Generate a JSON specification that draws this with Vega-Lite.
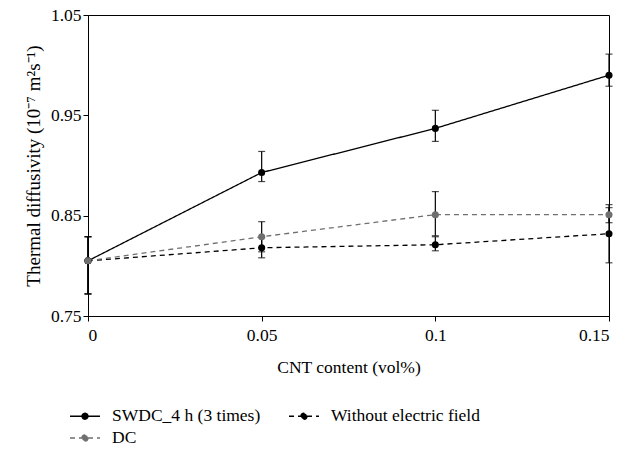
{
  "$schema": "https://vega.github.io/schema/vega-lite/v6.json",
  "width": 521,
  "height": 301,
  "autosize": "none",
  "padding": {"left": 88, "top": 15, "right": 18, "bottom": 135},
  "background": "white",
  "config": {
    "font": "Liberation Serif",
    "view": {"stroke": "black", "strokeWidth": 1},
    "axis": {
      "grid": false,
      "domainColor": "black",
      "tickColor": "black",
      "labelColor": "black",
      "titleColor": "black",
      "labelFont": "Liberation Serif",
      "titleFont": "Liberation Serif",
      "labelFontSize": 17.5,
      "titleFontSize": 17.5,
      "titleFontWeight": "normal",
      "tickSize": 5
    },
    "legend": {
      "labelFont": "Liberation Serif",
      "labelFontSize": 17.5,
      "labelColor": "black"
    }
  },
  "data": {
    "values": [
      {"x": 0, "series": "SWDC_4 h (3 times)", "y": 0.805, "lo": 0.772, "hi": 0.829},
      {"x": 0.05, "series": "SWDC_4 h (3 times)", "y": 0.893, "lo": 0.884, "hi": 0.914},
      {"x": 0.1, "series": "SWDC_4 h (3 times)", "y": 0.937, "lo": 0.924, "hi": 0.955},
      {"x": 0.15, "series": "SWDC_4 h (3 times)", "y": 0.990, "lo": 0.979, "hi": 1.011},
      {"x": 0, "series": "Without electric field", "y": 0.805, "lo": 0.772, "hi": 0.829},
      {"x": 0.05, "series": "Without electric field", "y": 0.818, "lo": 0.808, "hi": 0.828},
      {"x": 0.1, "series": "Without electric field", "y": 0.821, "lo": 0.815, "hi": 0.829},
      {"x": 0.15, "series": "Without electric field", "y": 0.832, "lo": 0.803, "hi": 0.861},
      {"x": 0, "series": "DC", "y": 0.805, "lo": 0.772, "hi": 0.829},
      {"x": 0.05, "series": "DC", "y": 0.829, "lo": 0.814, "hi": 0.844},
      {"x": 0.1, "series": "DC", "y": 0.851, "lo": 0.830, "hi": 0.874},
      {"x": 0.15, "series": "DC", "y": 0.851, "lo": 0.843, "hi": 0.858}
    ]
  },
  "encoding": {
    "x": {
      "field": "x",
      "type": "quantitative",
      "scale": {"domain": [0, 0.15], "nice": false, "zero": false},
      "axis": {"values": [0, 0.05, 0.1, 0.15], "labelExpr": "datum.value == 0 ? '0' : format(datum.value, '.2~f')", "title": "CNT content (vol%)", "titlePadding": 15, "labelPadding": 5}
    }
  },
  "layer": [
    {
      "mark": {"type": "rule", "color": "black", "strokeWidth": 1.2},
      "encoding": {
        "y": {"field": "lo", "type": "quantitative"},
        "y2": {"field": "hi"}
      }
    },
    {
      "mark": {"type": "tick", "orient": "horizontal", "color": "black", "size": 7, "thickness": 1.2},
      "encoding": {"y": {"field": "lo", "type": "quantitative"}}
    },
    {
      "mark": {"type": "tick", "orient": "horizontal", "color": "black", "size": 7, "thickness": 1.2},
      "encoding": {"y": {"field": "hi", "type": "quantitative"}}
    },
    {
      "mark": {"type": "line", "strokeWidth": 1.3},
      "encoding": {
        "y": {
          "field": "y",
          "type": "quantitative",
          "scale": {"domain": [0.75, 1.05], "nice": false, "zero": false},
          "axis": {"values": [0.75, 0.85, 0.95, 1.05], "format": ".2f", "title": "Thermal diffusivity (10⁻⁷ m²s⁻¹)", "titleFontSize": 19, "titlePadding": 7, "labelPadding": 2}
        },
        "color": {
          "field": "series",
          "type": "nominal",
          "scale": {"domain": ["SWDC_4 h (3 times)", "Without electric field", "DC"], "range": ["black", "black", "#6f6f6f"]},
          "legend": {
            "title": null,
            "orient": "none",
            "legendX": -16,
            "legendY": 388,
            "columns": 2,
            "columnPadding": 25,
            "rowPadding": 0,
            "labelOffset": 14,
            "padding": 0,
            "values": ["SWDC_4 h (3 times)", "DC", "Without electric field"],
            "symbolType": "M-1.25,0H1.25M0.25,0A0.25,0.25,0,1,1,-0.25,0A0.25,0.25,0,1,1,0.25,0Z",
            "symbolSize": 576,
            "symbolStrokeWidth": 1.3,
            "encode": {"symbols": {"update": {"fill": {"scale": "color", "field": "value"}, "fillOpacity": {"value": 1}}}}
          }
        },
        "strokeDash": {
          "field": "series",
          "type": "nominal",
          "scale": {"domain": ["SWDC_4 h (3 times)", "Without electric field", "DC"], "range": [[1, 0], [5, 4], [5, 4]]},
          "legend": null
        }
      }
    },
    {
      "mark": {"type": "point", "filled": true, "opacity": 1, "size": 50},
      "encoding": {
        "y": {"field": "y", "type": "quantitative"},
        "color": {"field": "series", "type": "nominal", "legend": null}
      }
    }
  ]
}
